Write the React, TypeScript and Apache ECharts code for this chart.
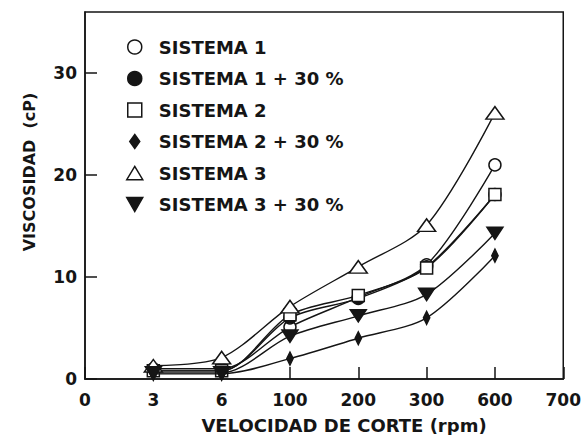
import React, { useEffect, useRef } from "react";
import * as echarts from "echarts";

const X_LABELS = ["0", "3", "6", "100", "200", "300", "600", "700"];
const SPEEDS = ["3", "6", "100", "200", "300", "600"];

const SERIES_NAMES = [
  "SISTEMA 1",
  "SISTEMA 1 + 30 %",
  "SISTEMA 2",
  "SISTEMA 2 + 30 %",
  "SISTEMA 3",
  "SISTEMA 3 + 30 %",
];

const sistema1 = [1.0, 1.0, 5.1, 8.0, 11.2, 21.0];
const sistema1p30 = [0.8, 0.8, 6.0, 7.9, 11.0, 18.1];
const sistema2 = [0.8, 0.8, 6.3, 8.2, 10.9, 18.1];
const sistema2p30 = [0.5, 0.5, 2.0, 4.0, 6.0, 12.1];
const sistema3 = [1.3, 2.1, 7.1, 11.0, 15.1, 26.1];
const sistema3p30 = [0.6, 0.6, 4.2, 6.2, 8.3, 14.3];

const VALUES = [sistema1, sistema1p30, sistema2, sistema2p30, sistema3, sistema3p30];

const FONT = "DejaVu Sans";
const INK = "#151515";

const DOWN_TRI = "path://M0,0 L16,0 L8,14 Z";
const UP_TRI = "path://M9,0 L18,15 L0,15 Z";
const DIAMOND = "path://M5,0 L10,7 L5,14 L0,7 Z";
const SQUARE = "path://M0,0 L12,0 L12,12 L0,12 Z";

const STYLES = [
  { symbol: "circle", size: 12, fill: "#fff", legendIcon: "circle" },
  { symbol: "circle", size: 12, fill: INK, legendIcon: "circle" },
  { symbol: SQUARE, size: 12, fill: "#fff", legendIcon: SQUARE },
  { symbol: DIAMOND, size: [9, 13], fill: INK, legendIcon: DIAMOND },
  { symbol: UP_TRI, size: [18, 15], fill: "#fff", legendIcon: UP_TRI },
  { symbol: DOWN_TRI, size: [16, 14], fill: INK, legendIcon: DOWN_TRI },
];

export default function App() {
  const ref = useRef<HTMLDivElement>(null);

  useEffect(() => {
    if (!ref.current) return;
    const chart = echarts.init(ref.current, null, { renderer: "svg" });

    const series = SERIES_NAMES.map((name, i) => ({
      name,
      type: "line",
      smooth: 0.3,
      data: VALUES[i].map((v, j) => [X_LABELS.indexOf(SPEEDS[j]), v]),
      symbol: STYLES[i].symbol,
      symbolSize: STYLES[i].size,
      symbolKeepAspect: true,
      itemStyle: { color: STYLES[i].fill, borderColor: INK, borderWidth: 1.5 },
      lineStyle: { color: INK, width: 1.4 },
      emphasis: { disabled: true },
      z: 2 + i,
    }));

    chart.setOption({
      animation: false,
      backgroundColor: "#fff",
      textStyle: { fontFamily: FONT, color: INK },
      grid: {
        left: 85,
        right: 16,
        top: 12,
        bottom: 56,
        show: true,
        borderColor: INK,
        borderWidth: 1.5,
        backgroundColor: "transparent",
      },
      legend: {
        orient: "vertical",
        left: 126,
        top: 38,
        padding: 0,
        itemWidth: 16,
        itemHeight: 14,
        itemGap: 13.5,
        selectedMode: false,
        symbolKeepAspect: true,
        textStyle: {
          fontFamily: FONT,
          fontWeight: "bold",
          fontSize: 18,
          color: INK,
          padding: [0, 0, 0, 11],
        },
        data: SERIES_NAMES.map((name, i) => ({
          name,
          icon: STYLES[i].legendIcon,
          itemStyle: { color: STYLES[i].fill, borderColor: INK, borderWidth: 1.5 },
        })),
      },
      xAxis: {
        type: "value",
        min: 0,
        max: 7,
        interval: 1,
        axisLine: { show: true, lineStyle: { color: INK, width: 1.5 } },
        axisTick: { show: true, inside: true, length: 12, lineStyle: { color: INK, width: 1.5 } },
        splitLine: { show: false },
        axisLabel: {
          margin: 12,
          fontFamily: FONT,
          fontWeight: "bold",
          fontSize: 17,
          color: INK,
          formatter: (v: number) => X_LABELS[Math.round(v)] ?? "",
        },
      },
      yAxis: {
        type: "value",
        min: 0,
        max: 36,
        interval: 10,
        axisLine: { show: true, lineStyle: { color: INK, width: 1.5 } },
        axisTick: { show: true, inside: true, length: 12, lineStyle: { color: INK, width: 1.5 } },
        splitLine: { show: false },
        axisLabel: {
          margin: 8,
          fontFamily: FONT,
          fontWeight: "bold",
          fontSize: 17,
          color: INK,
          showMaxLabel: false,
          formatter: (v: number) => (v % 10 === 0 ? String(v) : ""),
        },
      },
      graphic: [
        {
          type: "text",
          x: 29,
          y: 172,
          rotation: Math.PI / 2,
          style: {
            text: "VISCOSIDAD  (cP)",
            fill: INK,
            font: `bold 16px "${FONT}"`,
            textAlign: "center",
            textVerticalAlign: "middle",
            align: "center",
            verticalAlign: "middle",
          },
        },
        {
          type: "text",
          x: 344,
          y: 425,
          style: {
            text: "VELOCIDAD DE CORTE (rpm)",
            fill: INK,
            font: `bold 18px "${FONT}"`,
            textAlign: "center",
            textVerticalAlign: "middle",
            align: "center",
            verticalAlign: "middle",
          },
        },
      ],
      series,
    });

    return () => chart.dispose();
  }, []);

  return (
    <div
      ref={ref}
      style={{ position: "fixed", left: 0, top: 0, width: 584, height: 435 }}
    />
  );
}
